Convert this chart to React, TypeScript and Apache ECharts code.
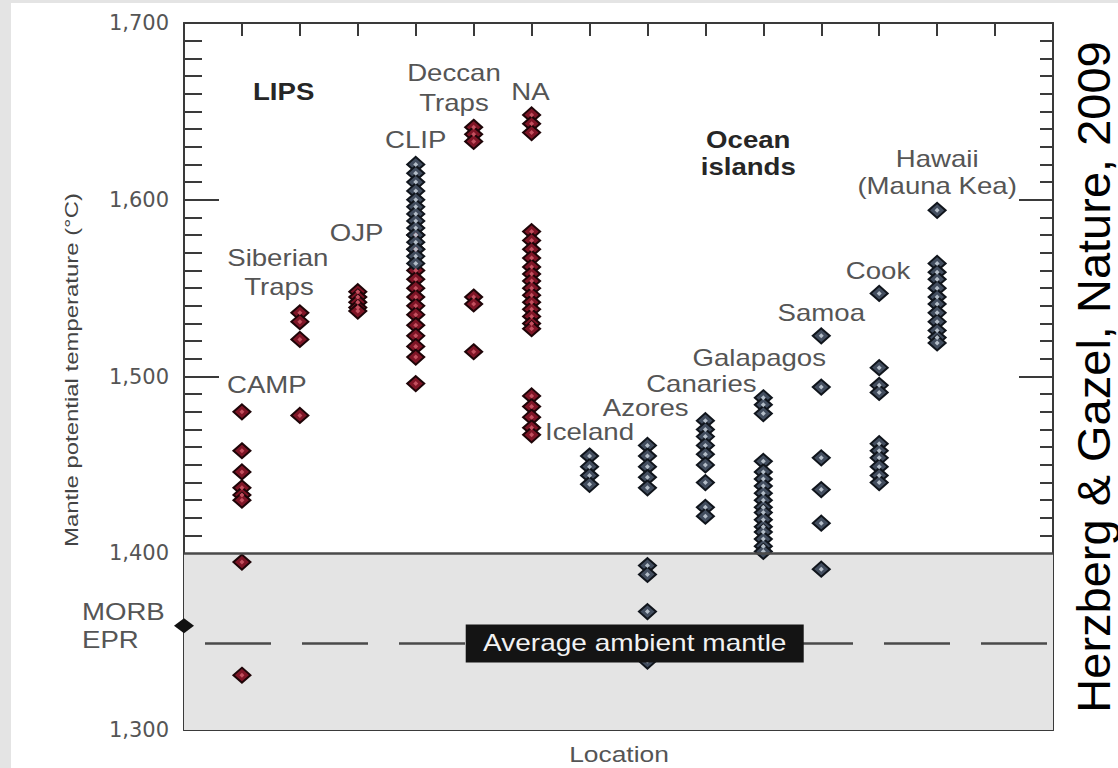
import React, { useEffect, useRef } from "react";
import * as echarts from "echarts";

// ---------- data ----------
const locations = ["CAMP", "Siberian Traps", "OJP", "CLIP", "Deccan Traps", "NA", "Iceland", "Azores", "Canaries", "Galapagos", "Samoa", "Cook", "Hawaii (Mauna Kea)"];

const campValues = [1480, 1458, 1446, 1437, 1433, 1430, 1395, 1331];
const siberianValues = [1536, 1531, 1521, 1478];
const ojpValues = [1548, 1545, 1542, 1539, 1537];
const clipUpperValues = [1620, 1615, 1610, 1605, 1600, 1596, 1592, 1588, 1584, 1580, 1576, 1572, 1568, 1564];
const clipLowerValues = [1580, 1572, 1560, 1555, 1550, 1545, 1540, 1535, 1529, 1523, 1517, 1511, 1496];
const deccanValues = [1641, 1637, 1633, 1545, 1541, 1514];
const naValues = [1648, 1643, 1638, 1582, 1577, 1572, 1567, 1562, 1558, 1554, 1550, 1546, 1542, 1538, 1534, 1530, 1527, 1489, 1483, 1477, 1471, 1467];
const icelandValues = [1455, 1449, 1444, 1439];
const azoresValues = [1461, 1455, 1449, 1443, 1437, 1393, 1388, 1367, 1339];
const canariesValues = [1475, 1470, 1466, 1461, 1456, 1450, 1440, 1426, 1421];
const galapagosValues = [1488, 1484, 1479, 1452, 1446, 1442, 1438, 1434, 1430, 1426, 1423, 1419, 1415, 1412, 1408, 1404, 1401];
const samoaValues = [1523, 1494, 1454, 1436, 1417, 1391];
const cookValues = [1547, 1505, 1495, 1491, 1462, 1458, 1454, 1449, 1444, 1440];
const hawaiiValues = [1594, 1564, 1559, 1555, 1550, 1545, 1541, 1536, 1531, 1526, 1522, 1519];

// LIP columns (red) and ocean-island columns (dark): [location position (1-based), values]
const lipColumns: [number, number[]][] = [
  [1, campValues], [2, siberianValues], [3, ojpValues], [4, clipLowerValues], [5, deccanValues], [6, naValues],
];
const oceanColumns: [number, number[]][] = [
  [4, clipUpperValues], [7, icelandValues], [8, azoresValues], [9, canariesValues], [10, galapagosValues],
  [11, samoaValues], [12, cookValues], [13, hawaiiValues],
];

const morbEpr = 1359;
const ambientMantle = 1349;
const mantleFloor = 1400;

const yTickValues = [1300, 1400, 1500, 1600, 1700];
const yTickLabels = ["1,300", "1,400", "1,500", "1,600", "1,700"];

// annotation texts anchored in data units [location position, temperature]
const annotationTexts = ["LIPS", "Siberian", "Traps", "OJP", "CLIP", "Deccan", "Traps", "NA", "CAMP", "Iceland", "Azores", "Canaries", "Galapagos", "Samoa", "Cook", "Hawaii", "(Mauna Kea)", "Ocean", "islands"];
const annotationX = [1.72, 1.62, 1.64, 2.98, 4.0, 4.66, 4.66, 5.98, 1.43, 7.0, 7.97, 8.93, 9.93, 11.0, 11.98, 13.0, 13.0, 9.74, 9.74];
const annotationY = [1661, 1567, 1551, 1581, 1634, 1672, 1655, 1661, 1495, 1468.5, 1482.5, 1496, 1510.5, 1536, 1560, 1623, 1608, 1634, 1618.5];
const annotationBold = [true, false, false, false, false, false, false, false, false, false, false, false, false, false, false, false, false, true, true];

const ambientLabel = "Average ambient mantle";
const ambientLabelX = 7.78;

// ---------- helpers ----------
const toPoints = (cols: [number, number[]][]) =>
  cols.flatMap(([pos, vals]) => vals.map((v) => [pos, v]));

const FONT = '"Liberation Sans", Arial, Helvetica, sans-serif';
const AXIS = "#3a3a3a";

export default function App() {
  const ref = useRef<HTMLDivElement>(null);

  useEffect(() => {
    const chart = echarts.init(ref.current!, null, { renderer: "svg" });
    const redPts = toPoints(lipColumns);
    const darkPts = toPoints(oceanColumns);

    const xAxisBase = {
      type: "value" as const,
      min: 0,
      max: 15,
      interval: 1,
      axisLine: { onZero: false, lineStyle: { color: AXIS, width: 2 } },
      axisTick: { inside: true, length: 13, lineStyle: { color: AXIS, width: 2 } },
      axisLabel: { show: false },
      splitLine: { show: false },
    };
    const yAxisBase = {
      type: "value" as const,
      min: 1300,
      max: 1700,
      interval: 100,
      axisLine: { onZero: false, lineStyle: { color: AXIS, width: 2 } },
      splitLine: { show: false },
    };

    chart.setOption({
      animation: false,
      backgroundColor: "#ffffff",
      grid: { left: 184, right: 65, top: 23, bottom: 38 },
      xAxis: [
        { ...xAxisBase, position: "bottom" },
        { ...xAxisBase, position: "top" },
      ],
      yAxis: [
        {
          ...yAxisBase,
          position: "left",
          axisTick: { inside: true, length: 35, lineStyle: { color: AXIS, width: 2 } },
          minorTick: { show: true, splitNumber: 10, length: 18, lineStyle: { color: AXIS, width: 2 } },
          axisLabel: {
            margin: 15,
            fontSize: 21,
            fontFamily: "DejaVu Sans",
            color: "#555",
            formatter: (v: number) => {
              const i = yTickValues.indexOf(v);
              return i >= 0 ? yTickLabels[i] : "";
            },
          },
        },
        {
          ...yAxisBase,
          position: "right",
          axisTick: { inside: true, length: 34, lineStyle: { color: AXIS, width: 2 } },
          minorTick: { show: true, splitNumber: 10, length: 13, lineStyle: { color: AXIS, width: 2 } },
          axisLabel: { show: false },
        },
      ],
      graphic: [
        { type: "rect", left: 0, top: 0, shape: { width: 11, height: 768 }, style: { fill: "#e4e4e4" }, z: 0 },
        { type: "rect", left: 0, top: 0, shape: { width: 1118, height: 3 }, style: { fill: "#e4e4e4" }, z: 0 },
        {
          type: "text", x: 72, y: 370, rotation: Math.PI / 2, scaleX: 1.33,
          style: { text: "Mantle potential temperature (°C)", fontSize: 18, fontFamily: "Liberation Sans", fill: "#444", align: "center", verticalAlign: "middle" },
        },
        {
          type: "text", x: 1093, y: 377, rotation: Math.PI / 2,
          style: { text: "Herzberg & Gazel, Nature, 2009", fontSize: 47, fontFamily: "Liberation Sans", fill: "#000", align: "center", verticalAlign: "middle" },
        },
        {
          type: "text", x: 619, y: 754, scaleX: 1.2,
          style: { text: "Location", fontSize: 22, fontFamily: "Liberation Sans", fill: "#555", align: "center", verticalAlign: "middle" },
        },
        {
          type: "text", x: 82, y: 612, scaleX: 1.2,
          style: { text: "MORB", fontSize: 23, fontFamily: "Liberation Sans", fill: "#555", align: "left", verticalAlign: "middle" },
        },
        {
          type: "text", x: 82, y: 640, scaleX: 1.2,
          style: { text: "EPR", fontSize: 23, fontFamily: "Liberation Sans", fill: "#555", align: "left", verticalAlign: "middle" },
        },
      ],
      series: [
        {
          type: "line",
          data: [],
          z: 1,
          markArea: {
            silent: true,
            itemStyle: { color: "#e4e4e4" },
            data: [[{ yAxis: 1300 }, { yAxis: mantleFloor }]],
          },
          markLine: {
            silent: true,
            symbol: "none",
            label: { show: false },
            data: [
              { yAxis: mantleFloor, lineStyle: { color: "#4a4a4a", width: 2.5, type: "solid" } },
              { yAxis: ambientMantle, lineStyle: { color: "#4a4a4a", width: 2.5, type: [66, 31], dashOffset: 76 } },
            ],
          },
        },
        {
          type: "scatter",
          z: 3,
          symbol: "diamond",
          symbolSize: [17, 15],
          data: redPts,
          itemStyle: { color: "#7e1526", borderColor: "#1e0508", borderWidth: 2, opacity: 1 },
        },
        {
          type: "scatter",
          z: 3,
          symbol: "diamond",
          symbolSize: [17, 15],
          data: darkPts,
          itemStyle: { color: "#424d5e", borderColor: "#10151c", borderWidth: 2, opacity: 1 },
        },
        {
          type: "scatter",
          z: 4,
          symbol: "diamond",
          symbolSize: 5,
          data: redPts,
          itemStyle: { color: "#c4505f", opacity: 1 },
        },
        {
          type: "scatter",
          z: 4,
          symbol: "diamond",
          symbolSize: 5,
          data: darkPts,
          itemStyle: { color: "#b3bdc8", opacity: 1 },
        },
        {
          type: "scatter",
          z: 5,
          clip: false,
          symbol: "diamond",
          symbolSize: [20, 15],
          data: [[0, morbEpr]],
          itemStyle: { color: "#111", opacity: 1 },
        },
        {
          type: "custom",
          z: 10,
          clip: false,
          data: annotationTexts.map((_, i) => [annotationX[i], annotationY[i]]),
          renderItem: (params: any, api: any) => {
            const i = params.dataIndex;
            const p = api.coord([annotationX[i], annotationY[i]]);
            return {
              type: "text",
              x: p[0],
              y: p[1],
              scaleX: 1.2,
              style: {
                text: annotationTexts[i],
                font: `${annotationBold[i] ? "bold " : ""}23px ${FONT}`,
                fill: annotationBold[i] ? "#262626" : "#555",
                align: "center",
                verticalAlign: "middle",
              },
            };
          },
        },
        {
          type: "custom",
          z: 10,
          clip: false,
          data: [[ambientLabelX, ambientMantle]],
          renderItem: (params: any, api: any) => {
            const p = api.coord([ambientLabelX, ambientMantle]);
            return {
              type: "group",
              x: p[0],
              y: p[1],
              children: [
                { type: "rect", shape: { x: -169, y: -19, width: 338, height: 38 }, style: { fill: "#141414" } },
                {
                  type: "text",
                  x: 0,
                  y: 0,
                  scaleX: 1.22,
                  style: { text: ambientLabel, font: `23px ${FONT}`, fill: "#f2f2f2", align: "center", verticalAlign: "middle" },
                },
              ],
            };
          },
        },
      ],
    });
    return () => chart.dispose();
  }, []);

  return <div ref={ref} style={{ position: "fixed", left: 0, top: 0, width: 1118, height: 768 }} />;
}
